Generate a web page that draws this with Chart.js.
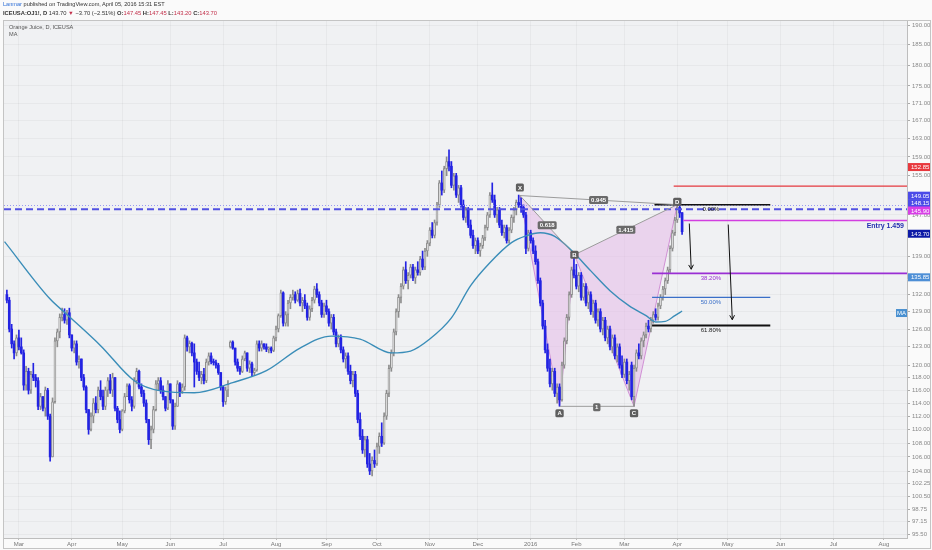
<!DOCTYPE html>
<html>
<head>
<meta charset="utf-8">
<script src="https://cdn.jsdelivr.net/npm/chart.js@4.4.1/dist/chart.umd.min.js"></script>
<style>
  html, body { margin: 0; padding: 0; background: #fafafa; }
  #wrap { position: relative; width: 932px; height: 550px; overflow: hidden; font-family: "Liberation Sans", Arial, sans-serif; }
  #c { position: absolute; left: 0; top: 0; }
  .hdr { position: absolute; left: 3px; white-space: nowrap; color: #333; }
  .red { color: #c2304a; }
  .lbl { position: absolute; left: 9px; font-size: 5.6px; color: #555; white-space: nowrap; }
</style>
</head>
<body>
<div id="wrap">
  <canvas id="c" width="932" height="550"></canvas>
  <div class="hdr" style="top:1px;font-size:5.6px"><span style="color:#2f6fd6">Lanmar</span> published on TradingView.com, April 05, 2016 15:31 EST</div>
  <div class="hdr" style="top:9.5px;font-size:5.8px"><b>ICEUSA:OJ1!, D</b> 143.70 <span class="red">&#9660;</span> &minus;3.70 (&minus;2.51%) <b>O:</b><span class="red">147.45</span> <b>H:</b><span class="red">147.45</span> <b>L:</b><span class="red">143.20</span> <b>C:</b><span class="red">143.70</span></div>
  <div class="lbl" style="top:24px">Orange Juice, D, ICEUSA</div>
  <div class="lbl" style="top:31px">MA</div>
</div>
<script>
// daily bars, first one is 5 sessions before 2 Mar 2015
const firstBar = -5;
const opens = [
  132.0,131.0,126.0,123.5,122.0,124.5,123.0,122.0,116.8,119.0,
  116.0,118.5,118.0,117.5,113.5,115.0,113.2,116.0,112.0,106.0,
  114.2,124.0,125.5,128.0,128.5,127.5,128.8,125.0,122.8,123.5,
  120.5,121.0,118.0,116.5,113.0,110.0,112.0,114.0,113.0,116.0,
  115.0,113.5,116.0,117.5,116.0,118.0,113.2,111.5,110.0,112.8,
  115.0,116.7,114.5,113.5,117.5,119.0,116.5,115.5,114.0,111.5,
  108.5,110.0,113.0,117.0,117.5,116.0,115.0,113.2,117.0,114.5,
  110.5,113.5,117.0,115.8,116.5,124.5,123.0,123.6,122.0,120.5,
  119.0,118.0,118.5,117.5,120.5,121.5,120.6,120.4,120.0,118.8,
  116.5,114.2,116.0,123.0,123.8,122.8,120.5,119.5,119.0,121.0,
  122.0,119.5,120.2,118.8,119.2,123.5,122.8,123.5,123.0,122.6,
  122.8,122.4,124.5,126.0,128.3,132.3,127.0,128.5,130.5,131.5,
  132.0,131.0,132.2,130.5,131.0,130.0,128.0,129.5,131.0,133.0,
  132.0,130.5,128.5,130.0,129.0,127.0,128.0,125.5,123.5,124.5,
  122.5,121.0,121.5,119.0,117.5,118.5,115.5,111.5,109.0,107.0,
  108.5,105.0,104.0,105.5,105.0,107.5,109.0,108.0,112.0,115.5,
  119.5,122.0,125.5,129.0,131.5,133.5,136.5,134.5,135.5,137.0,
  135.0,136.5,136.0,138.5,137.0,140.0,141.5,144.0,143.0,145.5,
  149.0,153.5,152.0,156.5,158.0,157.0,153.0,155.0,151.0,152.5,
  149.0,146.5,148.0,145.0,143.0,141.0,142.0,140.0,141.0,142.5,
  144.5,147.0,151.0,150.0,147.0,148.0,145.0,143.5,144.5,142.0,
  144.0,146.5,148.0,149.5,149.0,148.5,147.0,140.5,143.5,142.0,
  140.0,138.0,134.5,130.5,126.5,122.5,119.5,117.0,119.0,115.5,
  116.5,114.5,120.0,124.0,128.0,132.0,136.5,135.5,133.5,135.5,
  131.5,133.5,130.5,132.0,129.0,130.5,127.5,129.0,126.0,127.5,
  124.5,126.0,123.0,124.5,121.5,123.0,120.0,118.5,120.5,117.5,
  120.0,115.0,119.5,122.0,121.5,124.0,125.0,126.5,126.0,127.5,
  128.5,128.0,130.0,131.5,133.0,134.5,136.5,140.5,143.5,146.0,
  148.5,147.45
];
const highs = [
  132.8,131.5,126.8,124.0,125.0,125.8,124.5,122.5,119.8,119.5,
  119.0,120.3,118.5,118.0,115.5,115.0,116.5,116.3,112.3,114.8,
  124.5,126.0,128.6,129.6,129.5,129.2,129.6,125.0,124.0,124.0,
  121.5,121.0,118.5,116.7,113.0,112.5,114.7,115.0,116.5,117.5,
  116.0,116.5,118.0,118.5,118.7,118.0,113.5,112.8,113.0,115.5,
  117.0,117.0,115.0,118.0,119.5,119.2,117.0,116.0,114.5,111.5,
  110.5,113.5,117.5,118.0,118.0,116.7,115.0,117.5,117.0,114.5,
  114.0,117.5,117.2,117.0,125.0,124.8,124.0,123.8,123.5,121.0,
  120.5,119.0,119.5,121.0,122.0,122.0,121.0,120.8,120.3,118.8,
  116.7,116.5,117.5,124.0,124.0,122.8,121.0,119.8,121.5,122.3,
  122.0,120.7,120.5,119.5,124.0,124.0,124.0,123.5,123.5,123.0,
  123.0,124.8,126.5,128.6,132.8,132.5,129.0,131.0,132.0,132.8,
  132.5,132.8,133.0,131.5,132.0,130.5,130.0,131.5,133.5,134.0,
  132.5,131.0,130.5,131.0,129.5,128.5,128.5,126.0,125.0,125.0,
  123.0,122.0,122.0,120.0,119.0,119.0,116.0,112.5,110.0,109.0,
  109.0,106.5,106.0,107.0,108.0,109.5,111.0,112.5,116.0,120.0,
  122.5,126.0,129.5,132.0,134.0,137.0,138.0,136.0,137.5,137.5,
  137.0,138.0,139.0,140.0,140.5,142.0,144.5,145.5,146.0,149.5,
  154.0,156.0,157.0,159.0,160.5,158.0,155.5,155.5,153.0,153.0,
  150.0,148.5,148.5,146.0,144.0,142.5,142.5,141.5,143.0,145.0,
  147.5,151.5,153.5,151.0,148.5,148.5,146.0,145.0,145.0,144.5,
  147.0,148.5,150.0,151.0,150.5,149.0,147.5,144.0,144.0,142.5,
  141.0,138.5,135.0,131.0,127.5,123.5,121.0,119.5,119.5,117.0,
  117.0,120.5,124.5,128.5,132.5,137.0,139.5,137.5,136.0,136.0,
  134.0,134.0,132.5,132.5,131.0,131.0,129.5,129.5,128.0,128.0,
  126.5,126.5,125.0,125.0,123.5,123.5,121.5,121.0,121.0,119.0,
  120.5,120.0,122.5,123.5,124.5,125.5,127.0,127.5,128.0,129.0,
  129.5,130.5,132.0,133.5,135.0,137.0,141.0,144.0,146.5,149.05,
  149.0,147.45
];
const lows = [
  130.5,125.5,122.8,121.0,121.5,122.5,121.8,116.0,116.0,115.4,
  115.5,117.5,116.5,113.0,113.0,112.8,112.0,111.5,105.4,106.0,
  114.0,123.0,124.5,127.4,127.0,126.8,124.5,122.3,122.0,120.0,
  119.5,117.5,116.0,112.5,109.3,109.8,111.0,112.5,112.5,114.5,
  113.0,113.0,115.0,115.5,115.0,112.8,111.0,109.5,109.8,112.5,
  115.0,114.0,112.8,113.2,117.0,116.2,115.0,113.5,111.0,107.8,
  107.2,109.5,112.8,116.0,115.5,114.5,112.8,113.0,114.0,110.0,
  110.0,113.5,115.0,115.5,116.0,122.3,122.0,121.5,116.5,118.5,
  117.5,117.0,117.0,117.2,120.0,120.2,120.0,119.5,118.5,116.0,
  113.5,113.8,115.0,122.8,122.6,120.0,119.0,118.5,118.8,120.7,
  119.0,118.8,118.3,118.3,119.0,122.3,122.3,122.6,122.2,122.0,
  122.0,122.2,124.0,125.5,128.0,126.5,126.5,126.5,129.5,131.0,
  130.5,130.8,130.0,129.0,129.5,127.5,127.5,129.0,130.5,131.5,
  130.0,128.0,128.0,128.5,126.5,126.0,125.0,123.0,123.0,122.0,
  120.5,119.5,118.5,117.0,116.5,115.0,111.0,108.5,106.5,106.0,
  104.5,103.5,103.3,104.5,104.8,106.5,107.5,107.8,111.5,115.0,
  119.0,121.5,125.0,128.0,130.5,133.0,134.0,133.0,135.0,134.5,
  134.0,135.5,135.5,136.5,136.5,139.0,141.0,142.5,142.5,145.0,
  148.5,151.0,151.5,155.0,156.0,152.5,152.0,150.5,149.5,148.5,
  146.0,145.5,144.5,142.5,140.5,139.5,139.5,139.0,140.5,142.0,
  144.0,146.5,149.5,146.5,145.5,144.5,143.0,142.5,141.5,141.5,
  143.5,145.5,147.0,148.5,147.5,146.5,139.5,140.0,141.5,139.5,
  137.5,134.0,130.0,126.0,122.0,119.0,116.5,116.0,115.0,114.0,
  113.5,114.3,119.5,123.5,127.5,131.5,135.0,133.0,132.5,131.0,
  131.0,130.0,129.5,128.5,128.0,127.0,126.5,125.5,125.0,124.0,
  123.5,122.5,122.0,121.0,120.5,119.5,118.0,118.0,117.0,116.0,
  114.5,113.5,119.0,121.0,121.0,123.0,124.5,125.5,125.5,127.0,
  127.5,127.5,129.5,131.0,132.0,134.0,136.0,140.0,143.0,145.5,
  146.5,143.2
];
const closes = [
  131.0,126.0,123.5,122.0,124.5,123.0,122.0,116.8,119.0,116.0,
  118.5,118.0,117.5,113.5,115.0,113.2,116.0,112.0,106.0,114.2,
  124.0,125.5,128.0,128.5,127.5,128.8,125.0,122.8,123.5,120.5,
  121.0,118.0,116.5,113.0,110.0,112.0,114.0,113.0,116.0,115.0,
  113.5,116.0,117.5,116.0,118.0,113.2,111.5,110.0,112.8,115.0,
  116.7,114.5,113.5,117.5,119.0,116.5,115.5,114.0,111.5,108.5,
  110.0,113.0,117.0,117.5,116.0,115.0,113.2,117.0,114.5,110.5,
  113.5,117.0,115.8,116.5,124.5,123.0,123.6,122.0,120.5,119.0,
  118.0,118.5,117.5,120.5,121.5,120.6,120.4,120.0,118.8,116.5,
  114.2,116.0,117.0,123.8,122.8,120.5,119.5,119.0,121.0,122.0,
  119.5,120.2,118.8,119.2,123.5,122.8,123.5,123.0,122.6,122.8,
  122.4,124.5,126.0,128.3,132.3,127.0,128.5,130.5,131.5,132.0,
  131.0,132.2,130.5,131.0,130.0,128.0,129.5,131.0,133.0,132.0,
  130.5,128.5,130.0,129.0,127.0,128.0,125.5,123.5,124.5,122.5,
  121.0,121.5,119.0,117.5,118.5,115.5,111.5,109.0,107.0,108.5,
  105.0,104.0,105.5,105.0,107.5,109.0,108.0,112.0,115.5,119.5,
  122.0,125.5,129.0,131.5,133.5,136.5,134.5,135.5,137.0,135.0,
  136.5,136.0,138.5,137.0,140.0,141.5,144.0,143.0,145.5,149.0,
  153.5,152.0,156.5,158.0,157.0,153.0,155.0,151.0,152.5,149.0,
  146.5,148.0,145.0,143.0,141.0,142.0,140.0,141.0,142.5,144.5,
  147.0,151.0,150.0,147.0,148.0,145.0,143.5,144.5,142.0,144.0,
  146.5,148.0,149.5,149.0,148.5,147.0,140.5,143.5,142.0,140.0,
  138.0,134.5,130.5,126.5,122.5,119.5,117.0,119.0,115.5,116.5,
  114.5,120.0,124.0,128.0,132.0,136.5,135.5,133.5,135.5,131.5,
  133.5,130.5,132.0,129.0,130.5,127.5,129.0,126.0,127.5,124.5,
  126.0,123.0,124.5,121.5,123.0,120.0,118.5,120.5,117.5,118.5,
  115.0,119.5,122.0,121.5,124.0,125.0,126.5,126.0,127.5,128.5,
  128.0,130.0,131.5,133.0,134.5,136.5,140.5,143.5,146.0,148.5,
  147.4,143.7
];

// moving average at these bars
const maBars = [-6, 13, 20, 34, 48, 59, 73, 89, 103, 117, 130, 142, 155, 163, 171, 180, 188, 196, 205, 211, 217, 223, 230, 238, 246, 254, 261, 265, 269, 273, 276];
const maValues = [141.8, 131.2, 128.5, 123.2, 117.5, 115.9, 115.6, 117.2, 119.1, 122.8, 124.8, 124.3, 122.0, 122.3, 124.3, 127.9, 133.6, 137.8, 141.6, 142.9, 143.5, 142.8, 140.1, 136.3, 132.7, 130.0, 128.3, 127.2, 127.3, 128.3, 129.1];

// time axis
const monthStarts = [0, 22, 43, 63, 85, 107, 128, 149, 171, 191, 213, 232, 252, 274, 295, 317, 339, 360];
const monthLabels = ['Mar', 'Apr', 'May', 'Jun', 'Jul', 'Aug', 'Sep', 'Oct', 'Nov', 'Dec', '2016', 'Feb', 'Mar', 'Apr', 'May', 'Jun', 'Jul', 'Aug'];
const priceTicks = [190, 185, 180, 175, 171, 167, 163, 159, 155, 147, 139, 132, 129, 126, 123, 120, 118, 116, 114, 112, 110, 108, 106, 104, 102.25, 100.5, 98.75, 97.15, 95.5];

// XABCD pattern
const patternNames = ['X', 'A', 'B', 'C', 'D'];
const patternBars = [208.5, 225, 231.2, 256, 274];
const patternPrices = [150.9, 113.5, 139.3, 113.5, 149.05];
const ratioLabels = ['0.618', '0.945', '1.415', '1'];

// fib retracement drawn from D
const fibLabels = ['0.00%', '38.20%', '50.00%', '61.80%'];
const fibPrices = [149.05, 135.85, 131.5, 126.6];

// other levels
const redLevel = 152.85;
const dottedLevel = 149.05;
const dashedLevel = 148.15;
const entryLevel = 145.90;
const lastPrice = 143.70;

// projection arrows [bar, price] -> [bar, price]
const arrowsFrom = [[279, 145.3], [295.2, 145.1]];
const arrowsTo = [[279.8, 136.6], [296.9, 127.6]];

const BLUE = '#2323e2';
const bars = opens.map((o, k) => k + firstBar);
const isDown = opens.map((o, k) => closes[k] < o);

const wickData = bars.map((x, k) => ({ x, y: [lows[k], highs[k]] }));
const bodyData = bars.map((x, k) => {
  let a = opens[k], b = closes[k];
  if (a === b) b = a + 0.15;
  return { x, y: [a, b] };
});
const maData = maBars.map((x, k) => ({ x, y: maValues[k] }));

function rr(ctx, x, y, w, h, r) {
  ctx.beginPath();
  if (ctx.roundRect) ctx.roundRect(x, y, w, h, r); else ctx.rect(x, y, w, h);
}
function badge(ctx, text, cx, cy, bg, fg) {
  ctx.font = 'bold 6px "Liberation Sans", Arial';
  const w = ctx.measureText(text).width + 4, h = 8;
  ctx.fillStyle = bg;
  rr(ctx, cx - w / 2, cy - h / 2, w, h, 1.5);
  ctx.fill();
  ctx.fillStyle = fg;
  ctx.textAlign = 'center';
  ctx.textBaseline = 'middle';
  ctx.fillText(text, cx, cy + 0.5);
}
function arrow(ctx, x1, y1, x2, y2) {
  ctx.beginPath(); ctx.moveTo(x1, y1); ctx.lineTo(x2, y2); ctx.stroke();
  const a = Math.atan2(y2 - y1, x2 - x1), s = 5;
  ctx.beginPath();
  ctx.moveTo(x2 - s * Math.cos(a - 0.5), y2 - s * Math.sin(a - 0.5));
  ctx.lineTo(x2, y2);
  ctx.lineTo(x2 - s * Math.cos(a + 0.5), y2 - s * Math.sin(a + 0.5));
  ctx.stroke();
}

const overlay = {
  id: 'overlay',
  beforeDraw(chart) {
    const { ctx, chartArea: a } = chart;
    ctx.save();
    ctx.fillStyle = '#fafafa';
    ctx.fillRect(0, 0, chart.width, chart.height);
    ctx.fillStyle = '#f0f1f3';
    ctx.fillRect(a.left, a.top, a.right - a.left, a.bottom - a.top);
    ctx.restore();
  },
  beforeDatasetsDraw(chart) {
    const { ctx } = chart;
    const xs = chart.scales.x, ys = chart.scales.y;
    const P = patternBars.map((b, k) => ({ x: xs.getPixelForValue(b), y: ys.getPixelForValue(patternPrices[k]) }));
    ctx.save();
    ctx.fillStyle = 'rgba(230, 185, 232, 0.55)';
    ctx.strokeStyle = 'rgba(205, 135, 210, 0.9)';
    ctx.lineWidth = 1;
    [[0, 1, 2], [2, 3, 4]].forEach(t => {
      ctx.beginPath();
      ctx.moveTo(P[t[0]].x, P[t[0]].y);
      ctx.lineTo(P[t[1]].x, P[t[1]].y);
      ctx.lineTo(P[t[2]].x, P[t[2]].y);
      ctx.closePath();
      ctx.fill();
      ctx.beginPath();
      ctx.moveTo(P[t[0]].x, P[t[0]].y);
      ctx.lineTo(P[t[1]].x, P[t[1]].y);
      ctx.lineTo(P[t[2]].x, P[t[2]].y);
      ctx.stroke();
    });
    ctx.restore();
  },
  afterDatasetsDraw(chart) {
    const { ctx, chartArea: a } = chart;
    const xs = chart.scales.x, ys = chart.scales.y;
    const X = v => xs.getPixelForValue(v), Y = v => ys.getPixelForValue(v);
    ctx.save();
    ctx.beginPath(); ctx.rect(a.left, a.top, a.right - a.left, a.bottom - a.top); ctx.clip();

    // full-width levels
    ctx.lineWidth = 1; ctx.strokeStyle = '#9a9af0'; ctx.setLineDash([1, 2]);
    ctx.beginPath(); ctx.moveTo(a.left, Math.round(Y(dottedLevel)) + 0.5); ctx.lineTo(a.right, Math.round(Y(dottedLevel)) + 0.5); ctx.stroke();
    ctx.lineWidth = 2; ctx.strokeStyle = '#5252e2'; ctx.setLineDash([7, 4]);
    ctx.beginPath(); ctx.moveTo(a.left, Y(dashedLevel)); ctx.lineTo(a.right, Y(dashedLevel)); ctx.stroke();
    ctx.setLineDash([]);

    // red & entry lines
    ctx.lineWidth = 1.2; ctx.strokeStyle = '#e5393f';
    ctx.beginPath(); ctx.moveTo(X(272.5), Y(redLevel)); ctx.lineTo(a.right, Y(redLevel)); ctx.stroke();
    ctx.lineWidth = 1.4; ctx.strokeStyle = '#d23fe0';
    ctx.beginPath(); ctx.moveTo(X(276.5), Y(entryLevel)); ctx.lineTo(a.right, Y(entryLevel)); ctx.stroke();
    ctx.font = 'bold 7px "Liberation Sans", Arial';
    ctx.fillStyle = '#2430b0'; ctx.textAlign = 'right'; ctx.textBaseline = 'middle';
    ctx.fillText('Entry 1.459', a.right - 3, Y(entryLevel) + 6);

    // fib levels
    const fibColors = ['#111111', '#9a2fd4', '#3a6fc8', '#111111'];
    const fibWidths = [1.6, 1.8, 1.3, 1.8];
    fibPrices.forEach((p, k) => {
      const y = Y(p);
      ctx.strokeStyle = fibColors[k]; ctx.lineWidth = fibWidths[k];
      ctx.beginPath();
      ctx.moveTo(X(k === 0 ? 264.5 : 263.5), y);
      ctx.lineTo(k === 1 ? a.right : X(312.7), y);
      ctx.stroke();
      ctx.font = '6px "Liberation Sans", Arial';
      ctx.fillStyle = k === 3 ? '#222' : fibColors[k];
      ctx.textAlign = 'center'; ctx.textBaseline = 'middle';
      ctx.fillText(fibLabels[k], X(288), y + 5);
    });

    // pattern legs
    const P = patternBars.map((b, k) => ({ x: X(b), y: Y(patternPrices[k]) }));
    ctx.strokeStyle = '#9c9c9c'; ctx.lineWidth = 1;
    [[0, 2], [2, 4], [0, 4], [1, 3]].forEach(s => {
      ctx.beginPath(); ctx.moveTo(P[s[0]].x, P[s[0]].y); ctx.lineTo(P[s[1]].x, P[s[1]].y); ctx.stroke();
    });
    [[0, 2], [0, 4], [2, 4], [1, 3]].forEach((s, k) => {
      badge(ctx, ratioLabels[k], (P[s[0]].x + P[s[1]].x) / 2, (P[s[0]].y + P[s[1]].y) / 2 + (k === 3 ? 1 : 0), '#6a6a6a', '#fff');
    });
    const off = [-8, 7, 0, 7, -3];
    patternNames.forEach((n, k) => badge(ctx, n, P[k].x, P[k].y + off[k], '#5e5e5e', '#fff'));

    // arrows
    ctx.strokeStyle = '#111'; ctx.lineWidth = 1;
    arrowsFrom.forEach((f, k) => arrow(ctx, X(f[0]), Y(f[1]), X(arrowsTo[k][0]), Y(arrowsTo[k][1])));
    ctx.restore();
  },
  afterDraw(chart) {
    const { ctx, chartArea: a } = chart;
    const ys = chart.scales.y;
    ctx.save();
    // price badges on the axis, nudged the way the platform stacks them
    const axisBadges = [
      [redLevel, '#e8383d', -19],
      [dottedLevel, '#4b4be8', -9],
      [dashedLevel, '#4b4be8', -6],
      [entryLevel, '#d83fe6', -10],
      [lastPrice, '#0d1aa6', 2],
      [fibPrices[1], '#4e8fd6', 4]
    ];
    ctx.font = '6px "Liberation Sans", Arial';
    ctx.textAlign = 'left'; ctx.textBaseline = 'middle';
    axisBadges.forEach(b => {
      const y = ys.getPixelForValue(b[0]) + b[2];
      ctx.fillStyle = b[1];
      ctx.fillRect(a.right + 1, y - 4, chart.width - a.right - 2, 8);
      ctx.fillStyle = '#fff';
      ctx.fillText(b[0].toFixed(2), a.right + 4, y + 0.5);
    });
    // MA value tag
    const yMa = ys.getPixelForValue(maValues[maValues.length - 1]) + 2;
    ctx.fillStyle = '#4a90d0';
    ctx.fillRect(a.right - 11, yMa - 4, 11, 8);
    ctx.fillStyle = '#fff'; ctx.textAlign = 'center';
    ctx.fillText('MA', a.right - 5.5, yMa + 0.5);
    // frame
    ctx.strokeStyle = '#c4c4c4'; ctx.lineWidth = 1;
    ctx.strokeRect(3.5, a.top + 0.5, chart.width - 5, chart.height - a.top - 2);
    ctx.restore();
  }
};

new Chart(document.getElementById('c'), {
  data: {
    datasets: [
      {
        type: 'line', data: maData, order: 0,
        borderColor: '#3a8db8', borderWidth: 1.4, pointRadius: 0,
        tension: 0.4, cubicInterpolationMode: 'monotone', fill: false
      },
      {
        type: 'bar', data: bodyData, order: 1, grouped: false,
        barThickness: isDown.map(d => d ? 2 : 3),
        backgroundColor: isDown.map(d => d ? BLUE : '#ffffff'),
        borderColor: isDown.map(d => d ? BLUE : '#8c8c8c'),
        borderWidth: isDown.map(d => d ? 0 : 1),
        borderSkipped: false
      },
      {
        type: 'bar', data: wickData, order: 2, grouped: false,
        barThickness: 1,
        backgroundColor: isDown.map(d => d ? BLUE : '#8c8c8c'),
        borderWidth: 0
      }
    ]
  },
  options: {
    responsive: false,
    animation: false,
    devicePixelRatio: 1,
    layout: { padding: { left: 4, top: 20, right: 0, bottom: 0 } },
    plugins: { legend: { display: false }, tooltip: { enabled: false } },
    scales: {
      x: {
        type: 'linear', min: -6.2, max: 369.6, offset: false,
        afterBuildTicks: s => { s.ticks = monthStarts.map(v => ({ value: v })); },
        afterFit: s => { s.height = 12; },
        ticks: {
          autoSkip: false, maxRotation: 0, padding: 1,
          font: { size: 6, family: '"Liberation Sans", Arial' }, color: '#777',
          callback: v => monthLabels[monthStarts.indexOf(v)]
        },
        grid: { color: 'rgba(0,0,0,0.035)', tickLength: 2, tickColor: '#bbb', offset: false },
        border: { color: '#bdbdbd' }
      },
      y: {
        type: 'logarithmic', position: 'right', min: 95.0, max: 191.3,
        afterBuildTicks: s => { s.ticks = priceTicks.map(v => ({ value: v })); },
        afterFit: s => { s.width = 25; },
        ticks: {
          autoSkip: false, padding: 2,
          font: { size: 6, family: '"Liberation Sans", Arial' }, color: '#888',
          callback: v => Number(v).toFixed(2)
        },
        grid: { color: 'rgba(0,0,0,0.035)', tickLength: 3, tickColor: '#aaa' },
        border: { color: '#bdbdbd' }
      }
    }
  },
  plugins: [overlay]
});
</script>
</body>
</html>
